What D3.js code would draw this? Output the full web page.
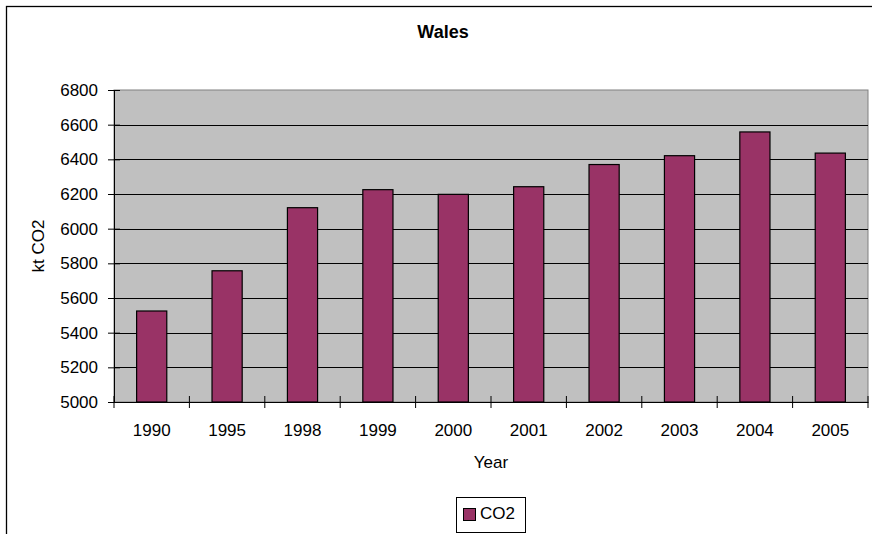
<!DOCTYPE html>
<html>
<head>
<meta charset="utf-8">
<script src="https://cdn.jsdelivr.net/npm/d3@7"></script>
<style>
  body { margin: 0; background: #fff; }
  text { font-family: Arial, "Liberation Sans", sans-serif; fill: #000; }
</style>
</head>
<body>
<div id="chart"></div>
<script>
const years = ['1990', '1995', '1998', '1999', '2000', '2001', '2002', '2003', '2004', '2005']
const co2 = [5525, 5757, 6121, 6225, 6198, 6242, 6370, 6421, 6558, 6436]
const yTicks = [5000, 5200, 5400, 5600, 5800, 6000, 6200, 6400, 6600, 6800]

const dataset = years.map((y, i) => ({ year: y, value: co2[i] }))

let dimensions = {
    width: 872,
    height: 534,
    left: 114,
    top: 90,
    plotWidth: 754,
    plotHeight: 312
}

const svg = d3.select('#chart')
    .append('svg')
    .attr('width', dimensions.width)
    .attr('height', dimensions.height)

// outer chart frame (runs off the right and bottom of the picture)
svg.append('rect')
    .attr('x', 6.5)
    .attr('y', 6.5)
    .attr('width', 900)
    .attr('height', 600)
    .attr('fill', '#fff')
    .attr('stroke', '#000')
    .attr('stroke-width', 1.3)

svg.append('text')
    .attr('x', 443)
    .attr('y', 38)
    .attr('text-anchor', 'middle')
    .style('font-size', '18px')
    .style('font-weight', 'bold')
    .text('Wales')

const container = svg.append('g')
    .attr('transform', `translate(${dimensions.left}, ${dimensions.top})`)

const xScale = d3.scaleBand()
    .domain(years)
    .range([0, dimensions.plotWidth])
    .paddingInner(0.6)
    .paddingOuter(0.3)

const yScale = d3.scaleLinear()
    .domain([5000, 6800])
    .range([dimensions.plotHeight, 0])

// plot area
container.append('rect')
    .attr('width', dimensions.plotWidth)
    .attr('height', dimensions.plotHeight)
    .attr('fill', '#c0c0c0')
    .attr('stroke', '#808080')
    .attr('stroke-width', 1)

// gridlines
container.selectAll('.grid')
    .data(yTicks.filter(t => t > 5000 && t < 6800))
    .join('line')
    .attr('x1', 0)
    .attr('x2', dimensions.plotWidth)
    .attr('y1', d => Math.round(yScale(d)) + 0.5)
    .attr('y2', d => Math.round(yScale(d)) + 0.5)
    .attr('stroke', '#000')
    .attr('stroke-width', 1)

// bars
container.selectAll('.bar')
    .data(dataset)
    .join('rect')
    .attr('x', d => xScale(d.year))
    .attr('y', d => yScale(d.value))
    .attr('width', xScale.bandwidth())
    .attr('height', d => dimensions.plotHeight - yScale(d.value))
    .attr('fill', '#993366')
    .attr('stroke', '#000')
    .attr('stroke-width', 1.2)

// y axis
const yAxis = d3.axisLeft(yScale)
    .tickValues(yTicks)
    .tickFormat(d3.format('d'))
    .tickSizeInner(6)
    .tickSizeOuter(0)
    .tickPadding(10)

const yAxisGroup = container.append('g').call(yAxis)
yAxisGroup.select('.domain').attr('stroke', '#000')
yAxisGroup.selectAll('.tick line').attr('x2', 6).attr('x1', -6)
yAxisGroup.selectAll('text').style('font-size', '17px').attr('fill', '#000')
yAxisGroup.selectAll('text').style('font-family', 'Arial, "Liberation Sans", sans-serif')

// x axis: labels at band centers, ticks at band boundaries
const xAxis = d3.axisBottom(xScale)
    .tickSize(0)
    .tickPadding(22)

const xAxisGroup = container.append('g')
    .attr('transform', `translate(0, ${dimensions.plotHeight})`)
    .call(xAxis)
xAxisGroup.select('.domain').attr('stroke', '#000')
xAxisGroup.selectAll('text').style('font-size', '17px').attr('fill', '#000')
xAxisGroup.selectAll('text').style('font-family', 'Arial, "Liberation Sans", sans-serif')

const step = xScale.step()
container.selectAll('.xtick')
    .data(d3.range(years.length + 1))
    .join('line')
    .attr('x1', i => i * step)
    .attr('x2', i => i * step)
    .attr('y1', dimensions.plotHeight - 6)
    .attr('y2', dimensions.plotHeight + 6)
    .attr('stroke', '#000')

// axis titles
svg.append('text')
    .attr('x', 491)
    .attr('y', 468)
    .attr('text-anchor', 'middle')
    .style('font-size', '17px')
    .text('Year')

svg.append('text')
    .attr('transform', 'translate(44, 246) rotate(-90)')
    .attr('text-anchor', 'middle')
    .style('font-size', '17px')
    .text('kt CO2')

// legend
const legend = svg.append('g')
    .attr('transform', 'translate(456, 497)')

legend.append('rect')
    .attr('x', 0.5)
    .attr('y', 0.5)
    .attr('width', 69)
    .attr('height', 35)
    .attr('fill', '#fff')
    .attr('stroke', '#000')

legend.append('rect')
    .attr('x', 7.5)
    .attr('y', 11.5)
    .attr('width', 12)
    .attr('height', 12)
    .attr('fill', '#993366')
    .attr('stroke', '#000')

legend.append('text')
    .attr('x', 24)
    .attr('y', 22)
    .style('font-size', '17px')
    .text('CO2')
</script>
</body>
</html>
